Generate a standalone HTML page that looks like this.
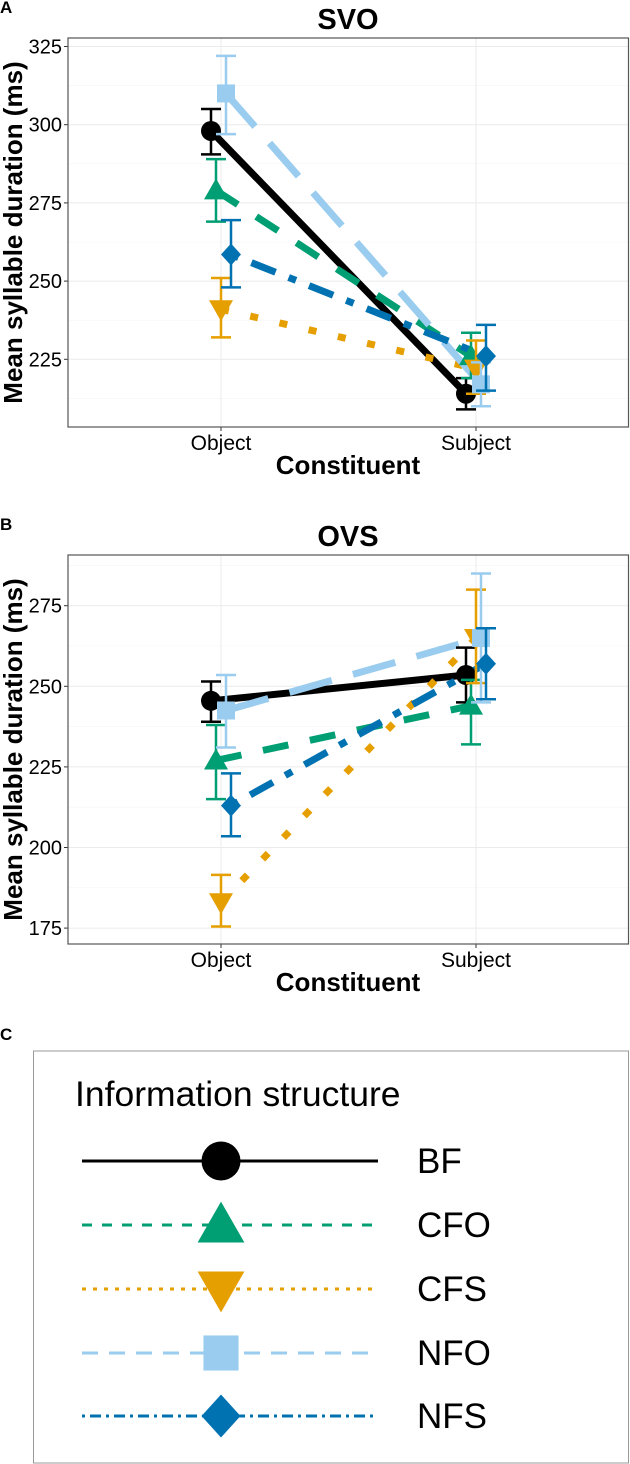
<!DOCTYPE html>
<html><head><meta charset="utf-8">
<style>
body{margin:0;background:#fff;width:630px;height:1464px;overflow:hidden;font-family:"Liberation Sans",Arial,sans-serif}
svg{display:block}
</style></head>
<body>
<svg id="fig" width="630" height="1464" viewBox="0 0 630 1464" xmlns="http://www.w3.org/2000/svg"></svg>
<script>
const categories = ["Object","Subject"];
const groups = ["BF","CFO","CFS","NFO","NFS"];
const colors = ["#000000","#009E73","#E69F00","#99CCEE","#0072B2"];
const dashes = ["", "26 22", "8 22", "44 22", "8 14 26 14"];
const legendDashes = ["", "10 10", "4 7", "16 11", "3 5 11 5"];
const svoMean = [[298,214],[279,226],[241,222],[310,217],[258.5,226]];
const svoLow  = [[290.5,209],[269,219],[232,214],[297,210],[248,215]];
const svoHigh = [[305,219],[289,233.5],[251,231],[322,224],[269.5,236]];
const ovsMean = [[245.5,253.5],[227,244],[183,265],[242.5,265],[213,257]];
const ovsLow  = [[239,245],[215,232],[175.5,251],[231,245],[203.5,246]];
const ovsHigh = [[251.5,262],[238,252],[191.5,280],[253.5,285],[223,268]];
const svoTicks = [225,250,275,300,325];
const ovsTicks = [175,200,225,250,275];

const NS="http://www.w3.org/2000/svg";
const fig=document.getElementById('fig');
function mk(tag,attrs,parent){const e=document.createElementNS(NS,tag);for(const k in attrs)e.setAttribute(k,attrs[k]);(parent||fig).appendChild(e);return e;}

function marker(g,i,x,y,s,parent){
  let e;
  if(i===0) e=mk('circle',{cx:x,cy:y,r:10*s,fill:colors[i]},parent);
  else if(i===1) e=mk('polygon',{points:`${x},${y-12*s} ${x-12*s},${y+9*s} ${x+12*s},${y+9*s}`,fill:colors[i]},parent);
  else if(i===2) e=mk('polygon',{points:`${x},${y+12*s} ${x-12*s},${y-9*s} ${x+12*s},${y-9*s}`,fill:colors[i]},parent);
  else if(i===3) e=mk('rect',{x:x-9*s,y:y-9*s,width:18*s,height:18*s,fill:colors[i]},parent);
  else e=mk('polygon',{points:`${x},${y-11*s} ${x+10*s},${y} ${x},${y+11*s} ${x-10*s},${y}`,fill:colors[i]},parent);
  
  
  return e;
}

function panel(o){
  const g=mk('g',{});
  
  
  const yS=v=>o.y0-(v-o.v0)*o.k;
  const xCat=[221,476];
  const dodge=[-10,-5,0,5,10];
  const L=68,R=628.5;
  let t=mk('text',{x:0,y:o.top-25,'font-size':17,'font-weight':'bold'},g);t.textContent=o.letter;
  
  t=mk('text',{x:348,y:o.top-9,'font-size':29,'font-weight':'bold','text-anchor':'middle'},g);t.textContent=o.title;
  
  for(let j=0;j<o.ticks.length;j++){
    const v=o.ticks[j];
    mk('line',{x1:L,x2:R,y1:yS(v),y2:yS(v),stroke:'#ebebeb','stroke-width':1},g);
    const ym=yS(v+12.5);
    if(ym>o.top&&ym<o.bot) mk('line',{x1:L,x2:R,y1:ym,y2:ym,stroke:'#f4f4f4','stroke-width':0.6},g);
    const yb=yS(v-12.5);
    if(j===0&&yb>o.top&&yb<o.bot) mk('line',{x1:L,x2:R,y1:yb,y2:yb,stroke:'#f4f4f4','stroke-width':0.6},g);
    mk('line',{x1:L-4,x2:L,y1:yS(v),y2:yS(v),stroke:'#333','stroke-width':1},g);
    const tl=mk('text',{x:L-6,y:yS(v)+7,'font-size':20,'text-anchor':'end',fill:'#000'},g);tl.textContent=v;
    
  }
  xCat.forEach((x,c)=>{
    mk('line',{x1:x,x2:x,y1:o.top,y2:o.bot,stroke:'#ebebeb','stroke-width':1},g);
    mk('line',{x1:x,x2:x,y1:o.bot,y2:o.bot+4,stroke:'#333','stroke-width':1},g);
    const tl=mk('text',{x:x,y:o.bot+23,'font-size':21,'text-anchor':'middle'},g);tl.textContent=categories[c];
    
  });
  groups.forEach((gr,i)=>{
    const ln=mk('line',{x1:xCat[0]+dodge[i],y1:yS(o.mean[i][0]),x2:xCat[1]+dodge[i],y2:yS(o.mean[i][1]),stroke:colors[i],'stroke-width':7,'stroke-dasharray':dashes[i]},g);
    
  });
  groups.forEach((gr,i)=>{
    for(let c=0;c<2;c++){
      const x=xCat[c]+dodge[i];
      const eb=mk('path',{d:`M${x-10},${yS(o.low[i][c])}H${x+10}M${x-10},${yS(o.high[i][c])}H${x+10}M${x},${yS(o.low[i][c])}V${yS(o.high[i][c])}`,stroke:colors[i],'stroke-width':2.5,fill:'none'},g);
      
      marker(gr,i,x,yS(o.mean[i][c]),1,g);
    }
  });
  mk('rect',{x:L,y:o.top,width:R-L,height:o.bot-o.top,fill:'none',stroke:'#555','stroke-width':1.2},g);
  t=mk('text',{x:348,y:o.bot+47,'font-size':26,'font-weight':'bold','text-anchor':'middle'},g);t.textContent='Constituent';
  
  const cy=(o.top+o.bot)/2;
  t=mk('text',{x:0,y:0,'font-size':26,'font-weight':'bold','text-anchor':'middle',transform:`translate(22,${cy}) rotate(-90)`},g);t.textContent='Mean syllable duration (ms)';
  
}

panel({name:'panel-svo',letter:'A',title:'SVO',top:38,bot:427,y0:359.3,v0:225,k:3.128,ticks:svoTicks,mean:svoMean,low:svoLow,high:svoHigh});
panel({name:'panel-ovs',letter:'B',title:'OVS',top:555,bot:944,y0:686.3,v0:250,k:3.224,ticks:ovsTicks,mean:ovsMean,low:ovsLow,high:ovsHigh});

const lg=mk('g',{});


let t=mk('text',{x:0,y:1040,'font-size':17,'font-weight':'bold'},lg);t.textContent='C';

mk('rect',{x:33.5,y:1051,width:595,height:412,fill:'none',stroke:'#999','stroke-width':1},lg);
t=mk('text',{x:75,y:1106,'font-size':35.5},lg);t.textContent='Information structure';

const ly=[1161,1225,1289,1353,1416];
groups.forEach((gr,i)=>{
  const e=mk('g',{},lg);
  
  
  mk('line',{x1:82,x2:378,y1:ly[i],y2:ly[i],stroke:colors[i],'stroke-width':3,'stroke-dasharray':legendDashes[i]},e);
  marker(gr,i,221,ly[i],1.95,e);
  const tx=mk('text',{x:417,y:ly[i]+12,'font-size':35},e);tx.textContent=gr;
});
</script>
</body></html>
